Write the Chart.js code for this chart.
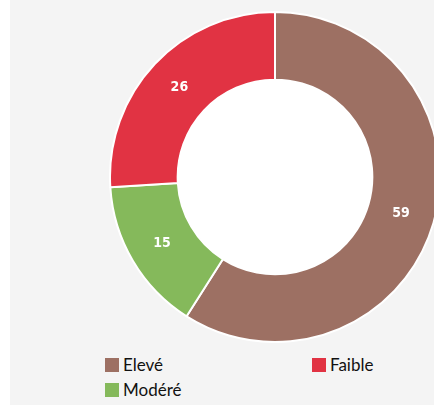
<!DOCTYPE html>
<html>
<head>
<meta charset="utf-8">
<script src="https://cdn.jsdelivr.net/npm/chart.js@4"></script>
<style>
  html, body { margin: 0; padding: 0; background: #fff; overflow: hidden; width: 434px; height: 407px; }
  .panel { position: absolute; left: 10px; top: 0; width: 424px; height: 405px; background: #f4f4f4; }
  #chart { position: absolute; left: 109px; top: 11px; }
  .legend { position: absolute; left: 105px; top: 352px; display: grid;
    grid-template-columns: 207px auto; grid-auto-flow: column; grid-template-rows: 25px 25px;
    font-family: Lato, "Open Sans", sans-serif; font-size: 17px; color: #111; }
  .legend span.item { display: flex; align-items: center; }
  .legend i { display: inline-block; width: 14px; height: 14px; margin-right: 4px; }
</style>
</head>
<body>
<div class="panel"></div>
<canvas id="chart" width="332" height="332"></canvas>
<div class="legend" id="legend"></div>
<script>
const labels = ["Elevé", "Modéré", "Faible"];
const values = [59, 15, 26];
const colors = ["#9d7063", "#85b95b", "#e13343"];

// white hole in the middle of the ring
const holePlugin = {
  id: "hole",
  beforeDatasetsDraw(chart) {
    const arc = chart.getDatasetMeta(0).data[0];
    if (!arc) return;
    const ctx = chart.ctx;
    ctx.save();
    ctx.fillStyle = "#ffffff";
    ctx.beginPath();
    ctx.arc(arc.x, arc.y, arc.innerRadius, 0, Math.PI * 2);
    ctx.fill();
    ctx.restore();
  },
};

// value labels on each slice
const valuePlugin = {
  id: "values",
  afterDatasetsDraw(chart) {
    const ctx = chart.ctx;
    ctx.save();
    ctx.fillStyle = "#ffffff";
    ctx.font = "bold 14px 'DejaVu Sans Condensed', sans-serif";
    ctx.textAlign = "center";
    ctx.textBaseline = "middle";
    chart.getDatasetMeta(0).data.forEach((arc, i) => {
      const p = arc.tooltipPosition();
      ctx.fillText(values[i], p.x, p.y);
    });
    ctx.restore();
  },
};

new Chart(document.getElementById("chart"), {
  type: "doughnut",
  data: {
    labels: labels,
    datasets: [
      {
        data: values,
        backgroundColor: colors,
        borderColor: "#ffffff",
        borderWidth: 2,
      },
    ],
  },
  options: {
    responsive: false,
    animation: false,
    cutout: "59%",
    plugins: { legend: { display: false }, tooltip: { enabled: false } },
  },
  plugins: [holePlugin, valuePlugin],
});

// legend: first column Elevé / Modéré, second column Faible
const legend = document.getElementById("legend");
labels.forEach((name, i) => {
  const item = document.createElement("span");
  item.className = "item";
  item.innerHTML = '<i style="background:' + colors[i] + '"></i>' + name;
  legend.appendChild(item);
});
</script>
</body>
</html>
